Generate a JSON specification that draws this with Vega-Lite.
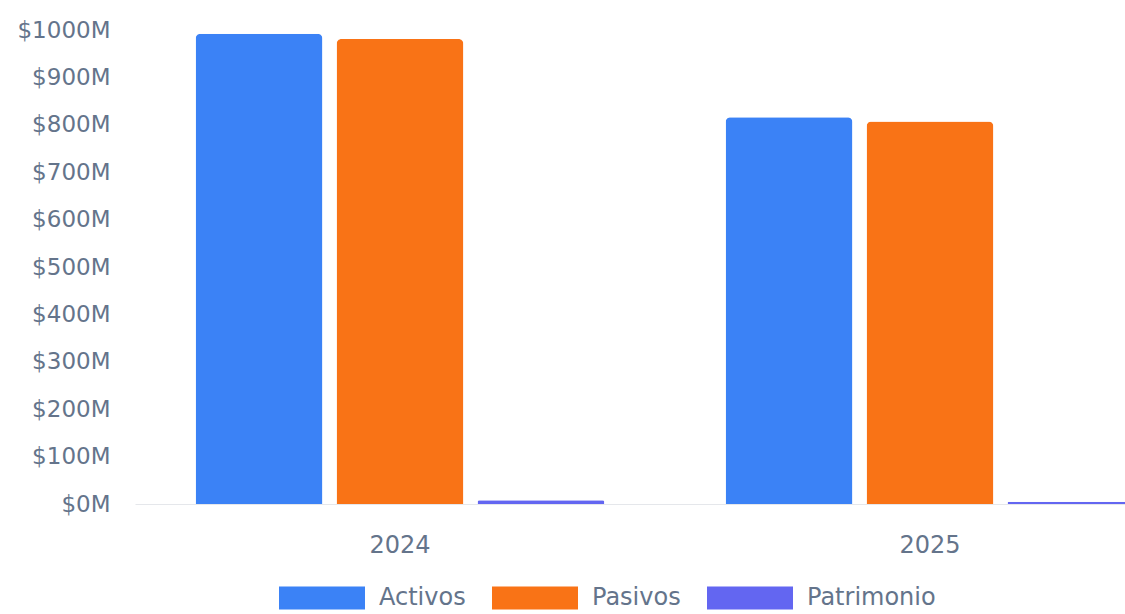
{
  "$schema": "https://vega.github.io/schema/vega-lite/v6.json",
  "autosize": "none",
  "width": 990,
  "height": 474,
  "padding": {"left": 135, "top": 30, "right": 0, "bottom": 110},
  "background": "white",
  "config": {"view": {"stroke": null}, "font": "DejaVu Sans"},
  "data": {
    "values": [
      {"year": "2024", "serie": "Activos", "valor": 992},
      {"year": "2024", "serie": "Pasivos", "valor": 981},
      {"year": "2024", "serie": "Patrimonio", "valor": 8},
      {"year": "2025", "serie": "Activos", "valor": 816},
      {"year": "2025", "serie": "Pasivos", "valor": 807},
      {"year": "2025", "serie": "Patrimonio", "valor": 5}
    ]
  },
  "mark": {"type": "bar", "cornerRadiusTopLeft": 5, "cornerRadiusTopRight": 5},
  "encoding": {
    "x": {
      "field": "year",
      "type": "nominal",
      "scale": {"range": [0, 1060], "paddingInner": 0, "paddingOuter": 0},
      "axis": {
        "title": null,
        "labelAngle": 0,
        "ticks": false,
        "domain": true,
        "domainColor": "#E5E7EB",
        "labelPadding": 29,
        "labelFontSize": 24,
        "labelColor": "#64748B"
      }
    },
    "xOffset": {
      "field": "serie",
      "type": "nominal",
      "sort": ["Activos", "Pasivos", "Patrimonio"],
      "scale": {"paddingInner": 0.1, "paddingOuter": 0.43}
    },
    "y": {
      "field": "valor",
      "type": "quantitative",
      "scale": {"domain": [0, 1000], "nice": false},
      "axis": {
        "title": null,
        "values": [0, 100, 200, 300, 400, 500, 600, 700, 800, 900, 1000],
        "labelExpr": "'$' + datum.value + 'M'",
        "grid": false,
        "domain": false,
        "ticks": false,
        "labelPadding": 25,
        "labelFontSize": 23,
        "labelColor": "#64748B"
      }
    },
    "color": {
      "field": "serie",
      "type": "nominal",
      "scale": {"domain": ["Activos", "Pasivos", "Patrimonio"], "range": ["#3B82F6", "#F97316", "#6366F1"]},
      "legend": {
        "title": null,
        "orient": "none",
        "direction": "horizontal",
        "legendX": 144,
        "legendY": 525,
        "symbolType": "M-1,-0.27H1V0.27H-1Z",
        "symbolSize": 7396,
        "symbolStrokeWidth": 0,
        "symbolOpacity": 1,
        "labelFontSize": 24,
        "labelColor": "#64748B",
        "labelOffset": 14,
        "columnPadding": 26
      }
    }
  }
}
